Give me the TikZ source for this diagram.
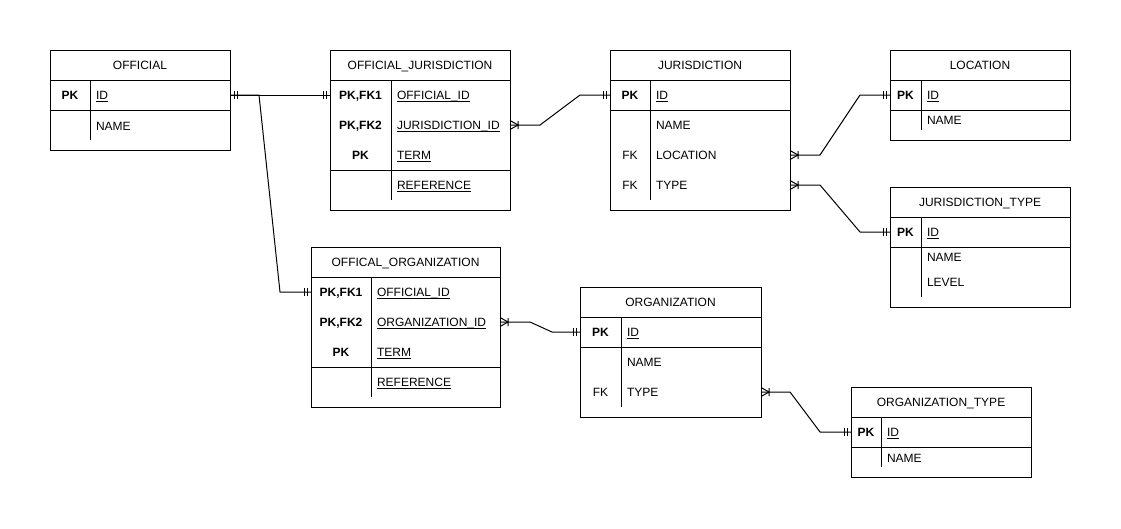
\documentclass[tikz,border=0pt]{standalone}
\usepackage{fontspec}
\setmainfont{Liberation Sans}
\usetikzlibrary{calc}
\newcommand\ulin[1]{\setbox0\hbox{#1}\rlap{\rule[-2pt]{\wd0}{0.8pt}}\box0}
\tikzset{
  frame/.style={draw=black, line width=1pt},
  conn/.style={draw=black, line width=1pt},
  tablebox/.style={frame, rectangle, inner sep=0pt, outer sep=0pt},
  rowbox/.style={rectangle, inner sep=0pt, outer sep=0pt, minimum height=20pt},
  txt/.style={inner sep=0pt, outer sep=0pt, text height=8.6pt, text depth=0pt, font=\fontsize{12}{14}\selectfont, text=black, yshift=-0.5pt},
  headtxt/.style={txt, anchor=center},
  keytxt/.style={txt, anchor=center},
  coltxt/.style={txt, anchor=west},
  pics/one/.style={code={\draw[conn] (4,-4)--(4,4) (7,-4)--(7,4);}},
  pics/many/.style={code={\draw[conn] (0,-4.5)--(8,0)--(0,4.5) (8,-4)--(8,4);}},
}
% #1 name #2 left #3 top #4 right #5 bottom #6 title
\newcommand\ertable[6]{%
  \node[tablebox, minimum width={#4-#2}, minimum height={#5-#3}] (#1) at ({(#2+#4)/2},{(#3+#5)/2}) {};
  \node[headtxt] (#1-t) at ({(#2+#4)/2},{#3+15}) {#6};
  \draw[frame] (#2,#3+30) -- (#4,#3+30);
}
% #1 name #2 left #3 right #4 y #5 divx #6 key #7 col
\newcommand\erfield[7]{%
  \node[rowbox, minimum width={#3-#2}] (#1) at ({(#2+#3)/2},#4) {};
  \node[keytxt] (#1-k) at ({(#2+#5)/2},#4) {#6};
  \node[coltxt] (#1-c) at ({#5+6},#4) {#7};
}
\begin{document}
\begin{tikzpicture}[x=1pt,y=-1pt]
\useasboundingbox[fill=white] (0,0) rectangle (1121,528);

% OFFICIAL
\ertable{OF}{50}{50}{230}{150}{OFFICIAL}
\erfield{OF-id}{50}{230}{95}{90}{\textbf{PK}}{\ulin{ID}}
\erfield{OF-name}{50}{230}{126}{90}{}{NAME}
\draw[frame] (50,110) -- (230,110);
\draw[frame] (90,80) -- (90,140);

% OFFICIAL_JURISDICTION
\ertable{OJ}{330}{50}{510}{210}{OFFICIAL\_JURISDICTION}
\erfield{OJ-oid}{330}{510}{95}{391}{\textbf{PK,FK1}}{\ulin{OFFICIAL\_ID}}
\erfield{OJ-jid}{330}{510}{125}{391}{\textbf{PK,FK2}}{\ulin{JURISDICTION\_ID}}
\erfield{OJ-term}{330}{510}{155}{391}{\textbf{PK}}{\ulin{TERM}}
\erfield{OJ-ref}{330}{510}{185}{391}{}{\ulin{REFERENCE}}
\draw[frame] (330,170) -- (510,170);
\draw[frame] (391,80) -- (391,200);

% JURISDICTION
\ertable{JU}{610}{50}{790}{210}{JURISDICTION}
\erfield{JU-id}{610}{790}{95}{650}{\textbf{PK}}{\ulin{ID}}
\erfield{JU-name}{610}{790}{125}{650}{}{NAME}
\erfield{JU-loc}{610}{790}{155}{650}{FK}{LOCATION}
\erfield{JU-type}{610}{790}{185}{650}{FK}{TYPE}
\draw[frame] (610,110) -- (790,110);
\draw[frame] (650,80) -- (650,200);

% LOCATION
\ertable{LO}{890}{50}{1070}{140}{LOCATION}
\erfield{LO-id}{890}{1070}{95}{921}{\textbf{PK}}{\ulin{ID}}
\erfield{LO-name}{890}{1070}{120}{921}{}{NAME}
\draw[frame] (890,110) -- (1070,110);
\draw[frame] (921,80) -- (921,130);

% JURISDICTION_TYPE
\ertable{JT}{890}{187}{1070}{307}{JURISDICTION\_TYPE}
\erfield{JT-id}{890}{1070}{232}{921}{\textbf{PK}}{\ulin{ID}}
\erfield{JT-name}{890}{1070}{257}{921}{}{NAME}
\erfield{JT-level}{890}{1070}{282}{921}{}{LEVEL}
\draw[frame] (890,247) -- (1070,247);
\draw[frame] (921,217) -- (921,297);

% OFFICAL_ORGANIZATION
\ertable{OO}{311}{247}{500}{407}{OFFICAL\_ORGANIZATION}
\erfield{OO-oid}{311}{500}{292}{371}{\textbf{PK,FK1}}{\ulin{OFFICIAL\_ID}}
\erfield{OO-orgid}{311}{500}{322}{371}{\textbf{PK,FK2}}{\ulin{ORGANIZATION\_ID}}
\erfield{OO-term}{311}{500}{352}{371}{\textbf{PK}}{\ulin{TERM}}
\erfield{OO-ref}{311}{500}{382}{371}{}{\ulin{REFERENCE}}
\draw[frame] (311,367) -- (500,367);
\draw[frame] (371,277) -- (371,397);

% ORGANIZATION
\ertable{OR}{580}{287}{761}{417}{ORGANIZATION}
\erfield{OR-id}{580}{761}{332}{621}{\textbf{PK}}{\ulin{ID}}
\erfield{OR-name}{580}{761}{362}{621}{}{NAME}
\erfield{OR-type}{580}{761}{392}{621}{FK}{TYPE}
\draw[frame] (580,347) -- (761,347);
\draw[frame] (621,317) -- (621,407);

% ORGANIZATION_TYPE
\ertable{OT}{851}{387}{1031}{477}{ORGANIZATION\_TYPE}
\erfield{OT-id}{851}{1031}{432}{881}{\textbf{PK}}{\ulin{ID}}
\erfield{OT-name}{851}{1031}{458}{881}{}{NAME}
\draw[frame] (851,447) -- (1031,447);
\draw[frame] (881,417) -- (881,467);

% connectors
\coordinate (br) at ($(OF-id.east)+(29,0)$);
\draw[conn] (OF-id.east) -- (OJ-oid.west);
\draw[conn] (OF-id.east) -- (br) -- ($(OO-oid.west)+(-31,0)$) -- (OO-oid.west);
\draw[conn] (OJ-jid.east) -- ++(30,0) -- ($(JU-id.west)+(-30,0)$) -- (JU-id.west);
\draw[conn] (JU-loc.east) -- ++(30,0) -- ($(LO-id.west)+(-30,0)$) -- (LO-id.west);
\draw[conn] (JU-type.east) -- ++(30,0) -- ($(JT-id.west)+(-30,0)$) -- (JT-id.west);
\draw[conn] (OO-orgid.east) -- ++(30,0) -- ($(OR-id.west)+(-28,0)$) -- (OR-id.west);
\draw[conn] (OR-type.east) -- ++(29,0) -- ($(OT-id.west)+(-31,0)$) -- (OT-id.west);

% cardinality marks
\pic at (OF-id.east) {one};
\pic[rotate=180] at (OJ-oid.west) {one};
\pic[rotate=180] at (OO-oid.west) {one};
\pic at (OJ-jid.east) {many};
\pic[rotate=180] at (JU-id.west) {one};
\pic at (JU-loc.east) {many};
\pic[rotate=180] at (LO-id.west) {one};
\pic at (JU-type.east) {many};
\pic[rotate=180] at (JT-id.west) {one};
\pic at (OO-orgid.east) {many};
\pic[rotate=180] at (OR-id.west) {one};
\pic at (OR-type.east) {many};
\pic[rotate=180] at (OT-id.west) {one};
\end{tikzpicture}
\end{document}
